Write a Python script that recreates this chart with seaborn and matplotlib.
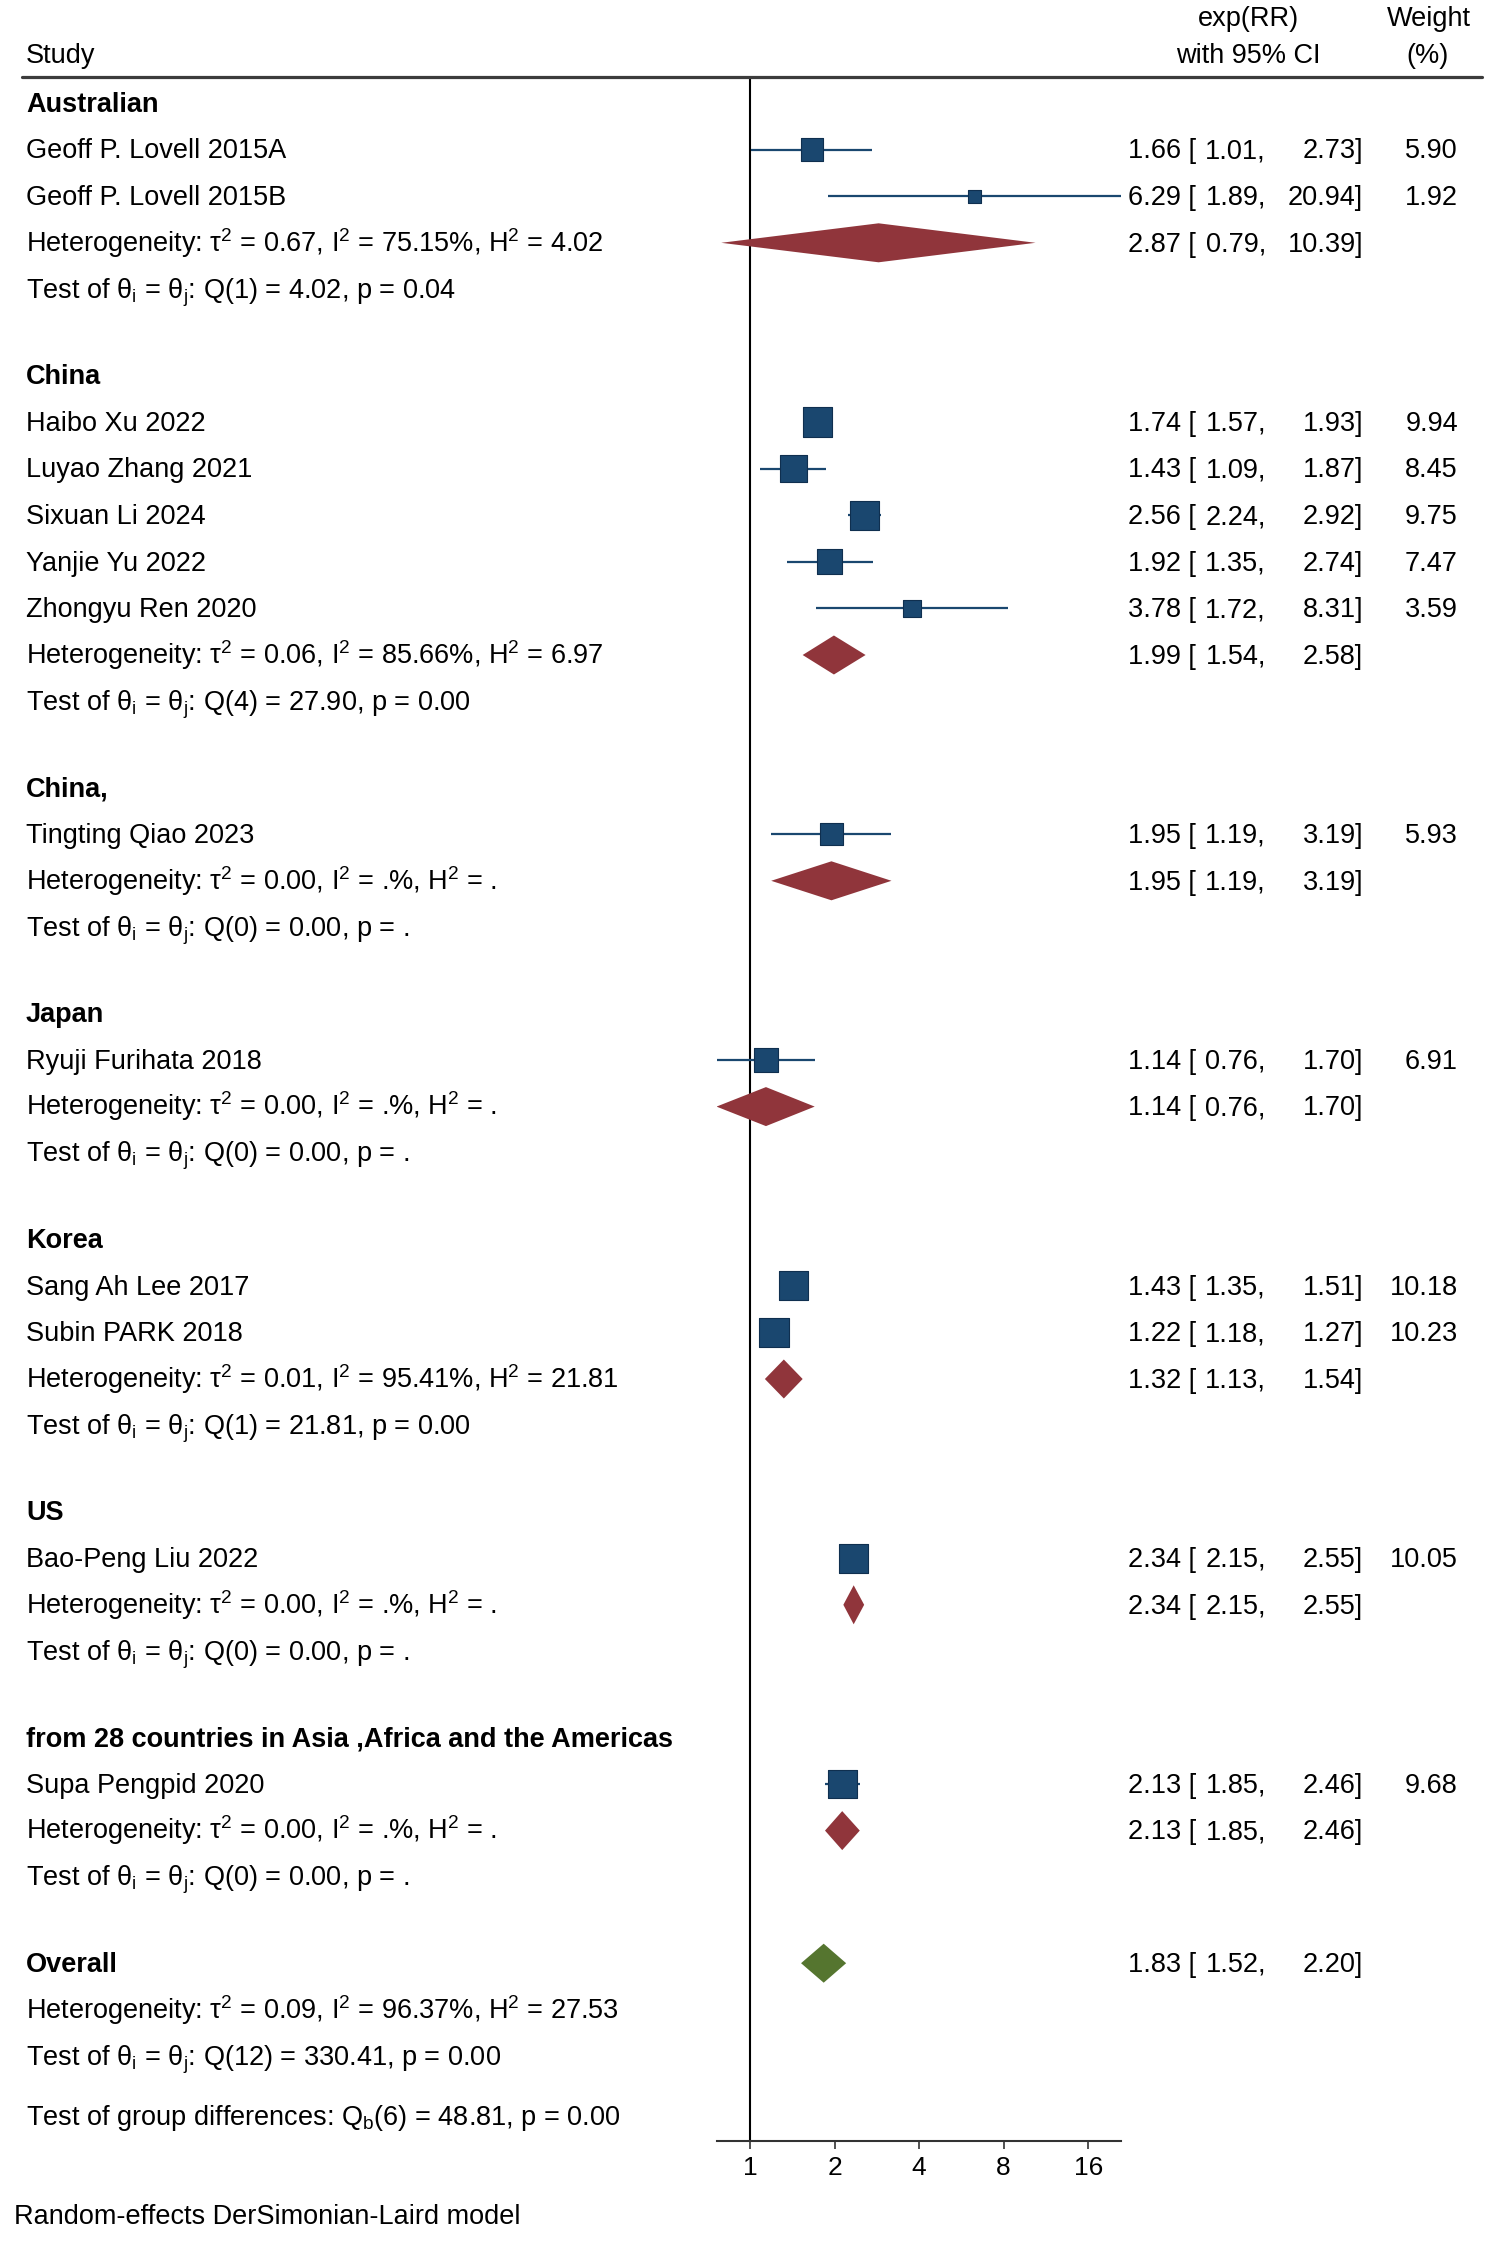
import matplotlib
matplotlib.use("Agg")
import matplotlib.pyplot as plt
import matplotlib.transforms as mtransforms
from matplotlib.lines import Line2D
import seaborn as sns
import pandas as pd
import numpy as np

# --- data -------------------------------------------------------------
groups = ["Australian", "China", "China,", "Japan", "Korea", "US",
          "from 28 countries in Asia ,Africa and the Americas"]

studies = ["Geoff P. Lovell 2015A", "Geoff P. Lovell 2015B",
           "Haibo Xu 2022", "Luyao Zhang 2021", "Sixuan Li 2024", "Yanjie Yu 2022", "Zhongyu Ren 2020",
           "Tingting Qiao 2023",
           "Ryuji Furihata 2018",
           "Sang Ah Lee 2017", "Subin PARK 2018",
           "Bao-Peng Liu 2022",
           "Supa Pengpid 2020"]
study_group = [0, 0, 1, 1, 1, 1, 1, 2, 3, 4, 4, 5, 6]
est = [1.66, 6.29, 1.74, 1.43, 2.56, 1.92, 3.78, 1.95, 1.14, 1.43, 1.22, 2.34, 2.13]
lo = [1.01, 1.89, 1.57, 1.09, 2.24, 1.35, 1.72, 1.19, 0.76, 1.35, 1.18, 2.15, 1.85]
hi = [2.73, 20.94, 1.93, 1.87, 2.92, 2.74, 8.31, 3.19, 1.70, 1.51, 1.27, 2.55, 2.46]
weight = [5.90, 1.92, 9.94, 8.45, 9.75, 7.47, 3.59, 5.93, 6.91, 10.18, 10.23, 10.05, 9.68]

g_est = [2.87, 1.99, 1.95, 1.14, 1.32, 2.34, 2.13]
g_lo = [0.79, 1.54, 1.19, 0.76, 1.13, 2.15, 1.85]
g_hi = [10.39, 2.58, 3.19, 1.70, 1.54, 2.55, 2.46]
g_tau2 = ["0.67", "0.06", "0.00", "0.00", "0.01", "0.00", "0.00"]
g_i2 = ["75.15", "85.66", ".", ".", "95.41", ".", "."]
g_h2 = ["4.02", "6.97", ".", ".", "21.81", ".", "."]
g_df = [1, 4, 0, 0, 1, 0, 0]
g_q = ["4.02", "27.90", "0.00", "0.00", "21.81", "0.00", "0.00"]
g_p = ["0.04", "0.00", ".", ".", "0.00", ".", "."]

overall = [1.83, 1.52, 2.20]
overall_het = ["0.09", "96.37", "27.53"]
overall_q = [12, "330.41", "0.00"]
group_diff = [6, "48.81", "0.00"]

ticks = [1, 2, 4, 8, 16]

# --- style ------------------------------------------------------------
sns.set_theme(style="white")
plt.rcParams['font.family'] = ['Liberation Sans', 'DejaVu Sans']
plt.rcParams['mathtext.fontset'] = 'custom'
plt.rcParams['mathtext.rm'] = 'Liberation Sans'
plt.rcParams['mathtext.it'] = 'Liberation Sans:italic'
plt.rcParams['mathtext.bf'] = 'Liberation Sans:bold'

W, H = 1489, 2242
FS = 19.5
SQ_COLOR = '#1a476f'
DIA_COLOR = '#90353b'
ALL_COLOR = '#55752f'

fig = plt.figure(figsize=(W / 100, H / 100), dpi=100)
top_px, axis_px = 77, 2141
ax = fig.add_axes([716.5 / W, 1 - axis_px / H, 404.5 / W, (axis_px - top_px) / H])
ax.set_xscale('log', base=2)
ax.set_xlim(min(lo), max(hi))
ax.set_ylim(axis_px, top_px)

# row layout (y in pixels from top)
STEP, GAP = 46.6, 86
rows = []
y = 103
study_y = [0] * len(studies)
group_y = []
for g, name in enumerate(groups):
    rows.append(('header', y, name))
    for i, sg in enumerate(study_group):
        if sg == g:
            y += STEP
            study_y[i] = y
            rows.append(('study', y, i))
    y += STEP
    group_y.append(y)
    rows.append(('het', y, g))
    y += STEP
    rows.append(('test', y, g))
    y += GAP
overall_y = y
het_all_y = overall_y + STEP
test_all_y = het_all_y + STEP
diff_y = test_all_y + 60

df = pd.DataFrame({'study': studies, 'est': est, 'lo': lo, 'hi': hi,
                   'weight': weight, 'ypos': study_y})

# CI lines and squares
ax.hlines(df['ypos'], df['lo'], df['hi'], color=SQ_COLOR, lw=1.6, zorder=2)
k = 44
sns.scatterplot(data=df, x='est', y='ypos', size='weight',
                sizes=(k * df['weight'].min(), k * df['weight'].max()),
                marker='s', color=SQ_COLOR, edgecolor='#0f2f4f', linewidth=0.8,
                legend=False, ax=ax, zorder=3)

# diamonds
DH = 19.5
for g in range(len(groups)):
    yy = group_y[g]
    ax.fill([g_lo[g], g_est[g], g_hi[g], g_est[g]], [yy, yy - DH, yy, yy + DH],
            color=DIA_COLOR, zorder=3, lw=0)
ax.fill([overall[1], overall[0], overall[2], overall[0]],
        [overall_y, overall_y - DH, overall_y, overall_y + DH],
        color=ALL_COLOR, zorder=3, lw=0)

ax.axvline(1, color='black', lw=1.5, zorder=1)
ax.set_xlabel('')
ax.set_ylabel('')
ax.set_yticks([])
ax.set_xticks(ticks)
ax.set_xticklabels([str(t) for t in ticks])
ax.xaxis.set_minor_locator(matplotlib.ticker.NullLocator())
for s in ['left', 'top', 'right']:
    ax.spines[s].set_visible(False)
ax.spines['bottom'].set_color('#333333')
ax.spines['bottom'].set_linewidth(1.5)
ax.tick_params(axis='x', bottom=True, direction='out', length=6, width=1.2,
               color='#333333', labelsize=19, pad=5, labelcolor='black')
ax.patch.set_alpha(0)

# --- text -------------------------------------------------------------
tr = mtransforms.blended_transform_factory(fig.transFigure, ax.transData)
HALF_CAP = 8.8  # px from row centre down to text baseline


def put(xpx, ypx, s, **kw):
    kw.setdefault('fontsize', FS)
    ax.text(xpx / W, ypx + HALF_CAP, s, transform=tr, clip_on=False,
            color='black', va='baseline', **kw)


def put_ci(ypx, e, l, h, w=None):
    put(1196, ypx, f"{e:.2f} [", ha='right')
    put(1266, ypx, f"{l:.2f},", ha='right')
    put(1363, ypx, f"{h:.2f}]", ha='right')
    if w is not None:
        put(1458, ypx, f"{w:.2f}", ha='right')


LX = 26
th = r"$\mathrm{\theta}_\mathrm{i}$ = $\mathrm{\theta}_\mathrm{j}$"
for kind, yy, p in rows:
    if kind == 'header':
        put(LX, yy, p, fontweight='bold')
    elif kind == 'study':
        put(LX, yy, studies[p])
        put_ci(yy, est[p], lo[p], hi[p], weight[p])
    elif kind == 'het':
        put(LX, yy, r"Heterogeneity: $\mathrm{\tau}^2$ = " + g_tau2[p] + r", I$^2$ = "
            + g_i2[p] + r"%, H$^2$ = " + g_h2[p])
        put_ci(yy, g_est[p], g_lo[p], g_hi[p])
    else:
        put(LX, yy, "Test of " + th + f": Q({g_df[p]}) = {g_q[p]}, p = {g_p[p]}")

put(LX, overall_y, "Overall", fontweight='bold')
put_ci(overall_y, *overall)
put(LX, het_all_y, r"Heterogeneity: $\mathrm{\tau}^2$ = " + overall_het[0] + r", I$^2$ = "
    + overall_het[1] + r"%, H$^2$ = " + overall_het[2])
put(LX, test_all_y, "Test of " + th + f": Q({overall_q[0]}) = {overall_q[1]}, p = {overall_q[2]}")
put(LX, diff_y, r"Test of group differences: Q$_\mathrm{b}$" + f"({group_diff[0]}) = {group_diff[1]}, p = {group_diff[2]}")
put(14, 2215, "Random-effects DerSimonian-Laird model")

# header
put(LX, 54, "Study")
put(1248, 17, "exp(RR)", ha='center')
put(1248, 54, "with 95% CI", ha='center')
put(1429, 17, "Weight", ha='center')
put(1428, 54, "(%)", ha='center')
fig.add_artist(Line2D([22 / W, 1482 / W], [1 - top_px / H, 1 - top_px / H],
                      transform=fig.transFigure, color='#3c3c3c', lw=2.3))

fig.savefig("out.png", dpi=100, facecolor='white')
